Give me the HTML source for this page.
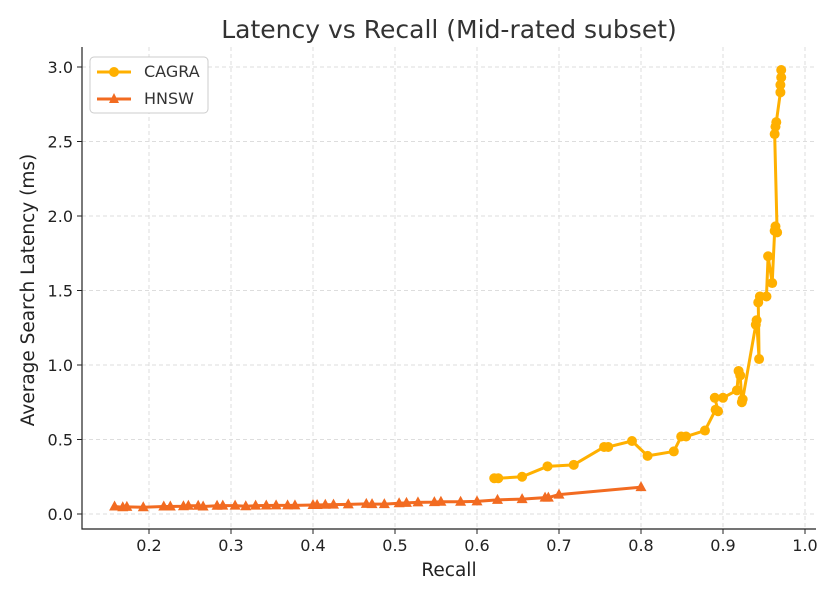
<!DOCTYPE html>
<html><head><meta charset="utf-8"><style>
body{margin:0;background:#fff}
svg{display:block;font-family:"DejaVu Sans","Liberation Sans",sans-serif}
</style></head><body>
<svg id="c" width="840" height="600">
<text x="449" y="38" text-anchor="middle" font-size="25" fill="#333">Latency vs Recall (Mid-rated subset)</text>
<text x="449" y="576" text-anchor="middle" font-size="18.5" fill="#222">Recall</text>
<text transform="translate(34,290) rotate(-90)" text-anchor="middle" font-size="18.5" fill="#222">Average Search Latency (ms)</text>
<g id="grid"></g><g id="series"></g><g id="axes"></g>
<g>
<rect x="90" y="57" width="118" height="56" rx="4" fill="#fff" stroke="#ccc"/>
<g><line x1="97" y1="72" x2="131" y2="72" stroke="#FFB000" stroke-width="3"/><circle cx="114" cy="72" r="5" fill="#FFB000"/><text x="144" y="77" font-size="16" fill="#333">CAGRA</text></g>
<g><line x1="97" y1="99" x2="131" y2="99" stroke="#F26B21" stroke-width="3"/><polygon points="114,93 119,103 109,103" fill="#F26B21"/><text x="144" y="104" font-size="16" fill="#333">HNSW</text></g>
</g>
</svg>
<script>
const xTicks=[0.2,0.3,0.4,0.5,0.6,0.7,0.8,0.9,1.0];
const yTicks=[0.0,0.5,1.0,1.5,2.0,2.5,3.0];
const cagraRecall=[0.621,0.626,0.655,0.686,0.718,0.755,0.760,0.789,0.808,0.840,0.849,0.855,0.878,0.891,0.894,0.890,0.900,0.917,0.919,0.921,0.923,0.924,0.940,0.941,0.944,0.943,0.945,0.953,0.955,0.960,0.963,0.964,0.966,0.963,0.964,0.965,0.970,0.970,0.971,0.971];
const cagraLatency=[0.24,0.24,0.25,0.32,0.33,0.45,0.45,0.49,0.39,0.42,0.52,0.52,0.56,0.70,0.69,0.78,0.78,0.83,0.96,0.93,0.75,0.77,1.27,1.30,1.04,1.42,1.46,1.46,1.73,1.55,1.90,1.93,1.89,2.55,2.60,2.63,2.83,2.88,2.93,2.98];
const hnswRecall=[0.158,0.168,0.173,0.193,0.218,0.226,0.242,0.248,0.26,0.266,0.283,0.29,0.305,0.318,0.33,0.343,0.355,0.369,0.378,0.40,0.405,0.415,0.425,0.443,0.465,0.472,0.487,0.505,0.514,0.528,0.548,0.556,0.58,0.60,0.625,0.655,0.683,0.687,0.70,0.80];
const hnswLatency=[0.05,0.045,0.048,0.045,0.05,0.05,0.052,0.055,0.055,0.05,0.055,0.056,0.056,0.052,0.056,0.057,0.058,0.058,0.058,0.06,0.06,0.062,0.063,0.065,0.068,0.066,0.066,0.072,0.075,0.078,0.08,0.082,0.082,0.085,0.095,0.10,0.11,0.11,0.13,0.18];
const NS="http://www.w3.org/2000/svg";
const L=82,R=816,T=47,B=529;
const xs=v=>-15+820*v, ys=v=>514-149*v;
function mk(t,a,p){const e=document.createElementNS(NS,t);for(const k in a)e.setAttribute(k,a[k]);p.appendChild(e);return e;}
const grid=document.getElementById('grid'),axes=document.getElementById('axes'),ser=document.getElementById('series');
xTicks.forEach(t=>{const x=xs(t);
 const g=mk('line',{x1:x,x2:x,y1:T,y2:B,stroke:'#ddd','stroke-dasharray':'4,3'},grid);
 
 mk('line',{x1:x,x2:x,y1:B,y2:B+5,stroke:'#222'},axes);
 const l=mk('text',{x:x,y:B+22,'text-anchor':'middle','font-size':16,fill:'#222'},axes);l.textContent=t.toFixed(1);
 });
yTicks.forEach(t=>{const y=ys(t);
 const g=mk('line',{x1:L,x2:R,y1:y,y2:y,stroke:'#ddd','stroke-dasharray':'4,3'},grid);
 
 mk('line',{x1:L-5,x2:L,y1:y,y2:y,stroke:'#222'},axes);
 const l=mk('text',{x:L-9,y:y+6,'text-anchor':'end','font-size':16,fill:'#222'},axes);l.textContent=t.toFixed(1);
 });
const ax=mk('path',{d:`M${L},${T}V${B}H${R}`,fill:'none',stroke:'#222','stroke-width':1.2},axes);

function series(xv,yv,col,shape,name){
 const g=mk('g',{},ser);
 const l=mk('polyline',{points:xv.map((x,i)=>xs(x)+','+ys(yv[i])).join(' '),fill:'none',stroke:col,'stroke-width':3,'stroke-linejoin':'round'},g);
 
 xv.forEach((x,i)=>{const cx=xs(x),cy=ys(yv[i]);let m;
  if(shape==='c')m=mk('circle',{cx:cx,cy:cy,r:5,fill:col},g);
  else m=mk('polygon',{points:`${cx},${cy-6} ${cx+5.5},${cy+4} ${cx-5.5},${cy+4}`,fill:col},g);
  });
}
series(hnswRecall,hnswLatency,'#F26B21','t','hnsw');
series(cagraRecall,cagraLatency,'#FFB000','c','cagra');
</script>
</body></html>
